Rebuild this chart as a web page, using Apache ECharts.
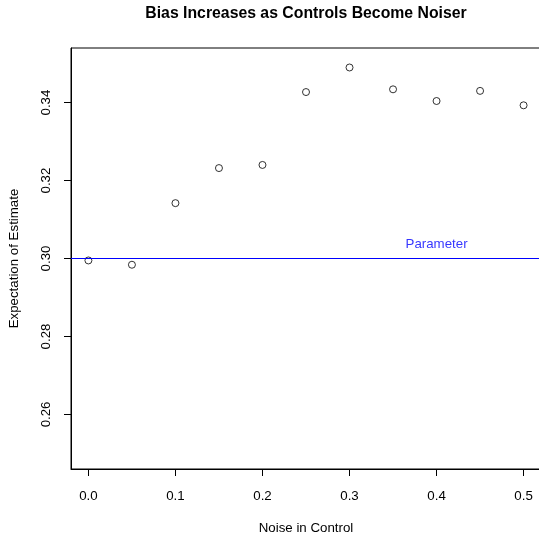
<!DOCTYPE html>
<html>
<head>
<meta charset="utf-8">
<script src="https://cdn.jsdelivr.net/npm/echarts@6/dist/echarts.min.js"></script>
<style>
html,body{margin:0;padding:0;background:#fff;}
#chart{width:539px;height:533px;}
</style>
</head>
<body>
<div id="chart"></div>
<script>
// Data
const noiseLevels = [0.00, 0.05, 0.10, 0.15, 0.20, 0.25, 0.30, 0.35, 0.40, 0.45, 0.50];
const expectations = [0.2995, 0.2984, 0.3142, 0.3232, 0.3240, 0.3427, 0.3490, 0.3434, 0.3404, 0.3430, 0.3393];
const xTicks = [0.0, 0.1, 0.2, 0.3, 0.4, 0.5];
const yTicks = [0.26, 0.28, 0.30, 0.32, 0.34];
const parameterValue = 0.30;
const parameterLabelX = 0.40;
const parameterLabel = 'Parameter';

const points = noiseLevels.map((x, i) => [x, expectations[i]]);
const font = 'Liberation Sans, Arial, Helvetica, sans-serif';
const fs = 13.3;

const chart = echarts.init(document.getElementById('chart'), null, {renderer: 'canvas'});
chart.setOption({
  animation: false,
  backgroundColor: '#fff',
  title: {
    text: 'Bias Increases as Controls Become Noiser',
    left: 306,
    textAlign: 'center',
    top: 6,
    padding: 0,
    textStyle: {fontFamily: font, fontSize: 15.8, fontWeight: 'bold', color: '#000'}
  },
  grid: {
    left: 71, top: 48, width: 470, height: 421,
    outerBoundsMode: 'none',
    containLabel: false,
    show: true, borderColor: '#000', borderWidth: 1, backgroundColor: 'transparent'
  },
  xAxis: {
    type: 'value',
    min: -0.02, max: 0.52,
    name: 'Noise in Control',
    nameLocation: 'middle',
    nameGap: 53,
    nameTextStyle: {fontFamily: font, fontSize: fs, color: '#000'},
    axisLine: {show: true, onZero: false, lineStyle: {color: '#000', width: 1}},
    axisTick: {show: true, inside: false, length: 7, customValues: xTicks, lineStyle: {color: '#000', width: 1}},
    axisLabel: {show: true, customValues: xTicks, margin: 21, fontFamily: font, fontSize: fs, color: '#000',
      formatter: v => Number(v).toFixed(1)},
    splitLine: {show: false}
  },
  yAxis: {
    type: 'value',
    min: 0.246, max: 0.354,
    name: 'Expectation of Estimate',
    nameLocation: 'middle',
    nameGap: 50,
    nameTextStyle: {fontFamily: font, fontSize: fs, color: '#000'},
    axisLine: {show: true, onZero: false, lineStyle: {color: '#000', width: 1}},
    axisTick: {show: true, inside: false, length: 7, customValues: yTicks, lineStyle: {color: '#000', width: 1}},
    axisLabel: {show: true, customValues: yTicks, rotate: 90, margin: 18, fontFamily: font, fontSize: fs, color: '#000',
      formatter: v => Number(v).toFixed(2)},
    splitLine: {show: false}
  },
  series: [
    {
      type: 'scatter',
      data: points,
      symbol: 'circle',
      symbolSize: 7,
      itemStyle: {color: 'rgba(0,0,0,0)', borderColor: '#000', borderWidth: 1},
      markLine: {
        silent: true,
        symbol: ['none', 'none'],
        label: {show: false},
        lineStyle: {color: '#0000ff', width: 1, type: 'solid'},
        data: [{yAxis: parameterValue}]
      }
    },
    {
      type: 'scatter',
      data: [[parameterLabelX, parameterValue]],
      symbolSize: 0,
      silent: true,
      label: {
        show: true,
        position: 'top',
        distance: 8,
        formatter: parameterLabel,
        fontFamily: font, fontSize: fs, color: '#0000ff'
      }
    }
  ]
});
</script>
</body>
</html>
